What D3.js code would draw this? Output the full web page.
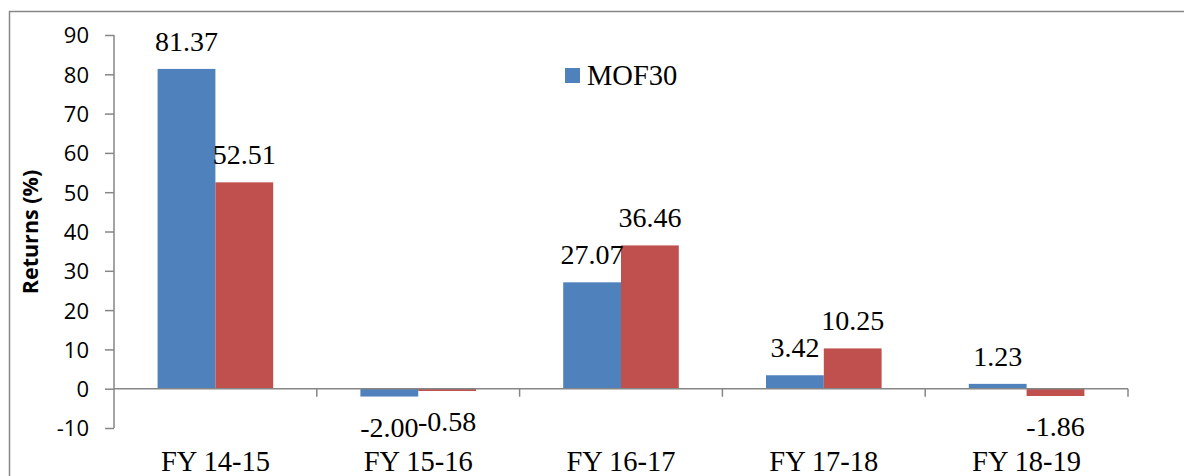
<!DOCTYPE html>
<html>
<head>
<meta charset="utf-8">
<script src="https://cdn.jsdelivr.net/npm/d3@7"></script>
<style>
  html, body { margin: 0; padding: 0; background: #fff; }
  svg { display: block; }
</style>
</head>
<body>
<svg id="chart" width="1184" height="476"></svg>
<script>
// Annual returns per financial year
const categories = ["FY 14-15", "FY 15-16", "FY 16-17", "FY 17-18", "FY 18-19"];
const mof30Values = [81.37, -2.00, 27.07, 3.42, 1.23];
const secondValues = [52.51, -0.58, 36.46, 10.25, -1.86];
const seriesNames = ["MOF30", "Benchmark"];
const yTicks = [-10, 0, 10, 20, 30, 40, 50, 60, 70, 80, 90];
const colors = ["#4F81BD", "#C0504D"];

const svg = d3.select("#chart");
const W = 1184, H = 476;

// frame around the chart area
svg.append("rect")
  .attr("x", 9.5).attr("y", 11.5)
  .attr("width", W + 20).attr("height", H + 20)
  .attr("fill", "none").attr("stroke", "#888").attr("stroke-width", 1.5);

const plot = { left: 114, right: 1128, top: 35, bottom: 428 };

const x0 = d3.scaleBand()
  .domain(categories)
  .range([plot.left, plot.right])
  .paddingInner(0.43)
  .paddingOuter(0.215);

const x1 = d3.scaleBand()
  .domain([0, 1])
  .range([0, x0.bandwidth()]);

const y = d3.scaleLinear()
  .domain([-10, 90])
  .range([plot.bottom, plot.top]);

const axisColor = "#868686";

// Y axis (plain hyphen for negatives)
const yAxis = svg.append("g")
  .attr("transform", `translate(${plot.left},0)`)
  .call(d3.axisLeft(y).tickValues(yTicks).tickSize(9).tickPadding(16).tickFormat(d => String(d)));
yAxis.select(".domain").attr("stroke", axisColor).attr("stroke-width", 1.5)
  .attr("d", `M0,${y(-10)}V${y(90)}`);
yAxis.selectAll(".tick line").attr("stroke", axisColor).attr("stroke-width", 1.5);
yAxis.selectAll(".tick text")
  .attr("font-family", "'Open Sans', sans-serif")
  .attr("font-size", 22)
  .attr("fill", "#000")
  .attr("dy", "0.36em");

// Y axis title
svg.append("text")
  .attr("transform", "translate(38,232) rotate(-90)")
  .attr("text-anchor", "middle")
  .attr("font-family", "'Open Sans', sans-serif")
  .attr("font-weight", "bold")
  .attr("font-size", 21.5)
  .attr("fill", "#000")
  .text("Returns (%)");

// Bars
const rows = categories.map((c, i) => ({ cat: c, vals: [mof30Values[i], secondValues[i]] }));

const groups = svg.append("g").selectAll("g")
  .data(rows).join("g")
  .attr("transform", d => `translate(${x0(d.cat)},0)`);

groups.selectAll("rect")
  .data(d => d.vals.map((v, k) => ({ v, k })))
  .join("rect")
  .attr("x", d => x1(d.k))
  .attr("width", x1.bandwidth())
  .attr("y", d => y(Math.max(0, d.v)))
  .attr("height", d => Math.abs(y(d.v) - y(0)))
  .attr("fill", d => colors[d.k]);

// Value labels
groups.selectAll("text")
  .data(d => d.vals.map((v, k) => ({ v, k })))
  .join("text")
  .attr("x", d => x1(d.k) + x1.bandwidth() / 2)
  .attr("y", d => d.v >= 0 ? y(d.v) - 18 : y(d.v) + 40)
  .attr("text-anchor", "middle")
  .attr("font-family", "'Liberation Serif', 'Times New Roman', serif")
  .attr("font-size", 28)
  .attr("fill", "#000")
  .text(d => d.v.toFixed(2));

// Category axis along zero
const xAxisG = svg.append("g");
xAxisG.append("line")
  .attr("x1", plot.left).attr("x2", plot.right)
  .attr("y1", y(0)).attr("y2", y(0))
  .attr("stroke", axisColor).attr("stroke-width", 1.5);

const step = x0.step();
const boundaries = d3.range(categories.length + 1).map(i => plot.left + i * step);
xAxisG.selectAll("line.tick")
  .data(boundaries.slice(1)).join("line")
  .attr("class", "tick")
  .attr("x1", d => d).attr("x2", d => d)
  .attr("y1", y(0)).attr("y2", y(0) + 8)
  .attr("stroke", axisColor).attr("stroke-width", 1.5);

xAxisG.selectAll("text")
  .data(categories).join("text")
  .attr("x", d => x0(d) + x0.bandwidth() / 2)
  .attr("y", 471)
  .attr("text-anchor", "middle")
  .attr("font-family", "'Liberation Serif', 'Times New Roman', serif")
  .attr("font-size", 28.5)
  .attr("fill", "#000")
  .text(d => d);

// Legend
const legend = svg.append("g").attr("transform", "translate(565,68)");
legend.append("rect")
  .attr("width", 15).attr("height", 15)
  .attr("fill", colors[0]);
legend.append("text")
  .attr("x", 22).attr("y", 17)
  .attr("font-family", "'Liberation Serif', 'Times New Roman', serif")
  .attr("font-size", 28.5)
  .attr("fill", "#000")
  .text(seriesNames[0]);
</script>
</body>
</html>
